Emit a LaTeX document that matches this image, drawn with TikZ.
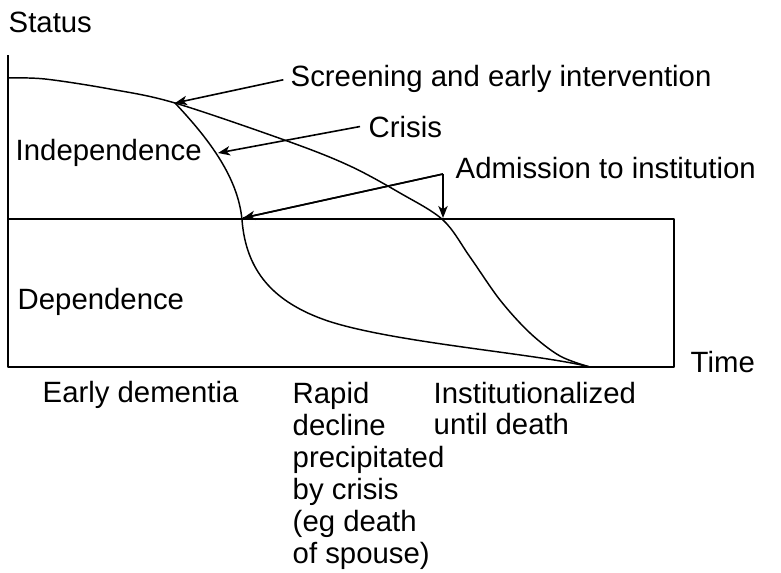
\documentclass[tikz,border=0pt]{standalone}
\usepackage{fontspec}
\setmainfont{Liberation Sans}
\usetikzlibrary{arrows.meta}
\begin{document}
\begin{tikzpicture}[x=0.75pt,y=-0.75pt,
  line width=1.1pt, line join=round,
  lbl/.style={inner sep=0pt, font=\fontsize{22}{24}\selectfont, anchor=base west},
  blk/.style={inner sep=0pt, font=\fontsize{22}{24}\selectfont, anchor=north west, align=left},
  pointer/.style={-{Stealth[length=9pt,width=7pt,inset=2.5pt]}, line width=1.2pt},
  curve/.style={line width=1.1pt}]
\useasboundingbox (0,0) rectangle (781,572);
% frame
\coordinate (top) at (8,55);
\coordinate (origin) at (8,367);
\coordinate (br) at (674,367);
\coordinate (mr) at (674,219);
\coordinate (ml) at (8,219);
\draw (top) -- (origin) -- (br) -- (mr) -- (ml);
% curves
\coordinate (branch) at (175,103);
\coordinate (endpt) at (590,367);
\draw[curve] plot[smooth,tension=0.55] coordinates {(8,78) (45,79) (110,89) (175,103) (290,142) (350,166) (400,193) (443,220) (470,257) (500,300) (530,333) (560,356) (590,367)};
\draw[curve] (branch) .. controls (205,135) and (238,175) .. (242,220)
  .. controls (246,270) and (272,302) .. (328,321)
  .. controls (395,343) and (540,354) .. (endpt);
% labels
\node[lbl] (status) at (8,32) {Status};
\node[lbl] (screen) at (290,86) {Screening and early intervention};
\node[lbl] (crisis) at (368,137) {Crisis};
\node[lbl] (adm) at (455,178) {Admission to institution};
\node[lbl] (indep) at (15,160) {Independence};
\node[lbl] (dep) at (17,309) {Dependence};
\node[lbl] (time) at (690,372) {Time};
\node[lbl] (early) at (42,402) {Early dementia};
\node[blk] (rapid) at (292,381) {Rapid\\decline\\precipitated\\by crisis\\(eg death\\of spouse)};
\node[blk] (inst) at (433,381) {Institutionalized\\until death};
% pointers
\coordinate (tipC) at (218,153);
\coordinate (tipA1) at (443,218);
\coordinate (tipA2) at (243,218);
\coordinate (junc) at ([xshift=-9pt,yshift=3pt]adm.base west);
\draw[pointer] ([xshift=-5pt,yshift=-1pt]screen.west) -- (branch);
\draw[pointer] ([xshift=-6pt]crisis.west) -- (tipC);
\draw[line width=1.2pt] (tipA2) -- (junc);
\draw[pointer] (junc) -- (tipA1);
\draw[pointer] (junc) -- (tipA2);
\end{tikzpicture}
\end{document}
